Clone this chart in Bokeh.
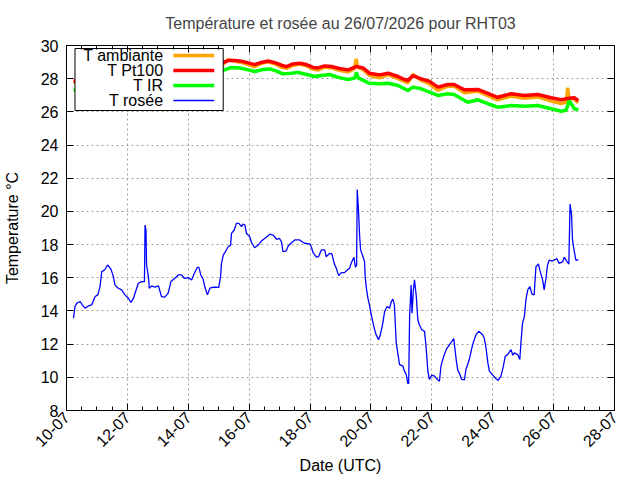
import math
from bokeh.plotting import figure
from bokeh.models import Range1d, FixedTicker, LinearAxis, ColumnDataSource
from bokeh.core.properties import value
from bokeh.embed import file_html
from bokeh.resources import INLINE

titre = "Température et rosée au 26/07/2026 pour RHT03"
noms = ["T ambiante", "T Pt100", "T IR", "T rosée"]
couleurs = ["#ffa500", "#ff0000", "#00ff00", "#0000ff"]
epaisseurs = [3.5, 3.5, 3.5, 1.3]

# jours depuis le 10-07 00:00 UTC
tick_jours = [0, 2, 4, 6, 8, 10, 12, 14, 16, 18]
tick_dates = ["10-07", "12-07", "14-07", "16-07", "18-07",
              "20-07", "22-07", "24-07", "26-07", "28-07"]

# T ambiante
amb_t = [0.23, 0.5, 1.0, 1.5, 2.0, 2.5, 3.0, 3.5, 4.0, 4.5, 5.0, 5.16, 5.31,
         5.53, 5.75, 5.97, 6.18, 6.40, 6.62, 6.84, 7.06, 7.22, 7.44, 7.66,
         7.88, 8.10, 8.26, 8.48, 8.70, 8.97, 9.25, 9.45, 9.52, 9.56, 9.74,
         9.95, 10.28, 10.56, 10.89, 11.21, 11.38, 11.65, 11.91, 12.20, 12.52,
         12.73, 13.07, 13.51, 13.84, 14.16, 14.60, 15.04, 15.48, 15.92, 16.25,
         16.42, 16.46, 16.50, 16.68, 16.81]
amb_v = [27.75, 27.9, 28.1, 28.3, 28.45, 28.55, 28.65, 28.75, 28.8, 28.9, 28.95,
         28.9, 29.15, 29.05, 28.98, 28.85, 28.72, 28.92, 29.02, 28.9, 28.7,
         28.62, 28.8, 28.88, 28.78, 28.58, 28.52, 28.7, 28.65, 28.5, 28.4,
         28.6, 29.19, 28.7, 28.55, 28.2, 28.05, 28.25, 28.0, 27.75, 28.25,
         27.9, 27.7, 27.3, 27.55, 27.55, 27.15, 27.25, 26.98, 26.72, 26.95,
         26.82, 26.9, 26.65, 26.5, 26.6, 27.45, 26.85, 26.75, 26.55]

# T Pt100
pt_t = [0.23, 0.5, 1.0, 1.5, 2.0, 2.5, 3.0, 3.5, 4.0, 4.5, 5.0, 5.16, 5.31,
        5.53, 5.75, 5.97, 6.18, 6.40, 6.62, 6.84, 7.06, 7.22, 7.44, 7.66,
        7.88, 8.10, 8.26, 8.48, 8.70, 8.97, 9.25, 9.52, 9.74, 9.95, 10.28,
        10.56, 10.89, 11.03, 11.21, 11.38, 11.65, 11.91, 12.20, 12.52, 12.73,
        13.07, 13.51, 13.84, 14.16, 14.60, 15.04, 15.48, 15.92, 16.25, 16.46,
        16.68, 16.81]
pt_v = [27.85, 27.95, 28.15, 28.35, 28.5, 28.6, 28.7, 28.8, 28.85, 28.95, 29.0,
        28.98, 29.09, 29.09, 29.05, 28.95, 28.85, 28.98, 29.07, 28.97, 28.81,
        28.73, 28.89, 28.93, 28.85, 28.68, 28.65, 28.77, 28.73, 28.61, 28.53,
        28.73, 28.65, 28.33, 28.23, 28.33, 28.13, 28.0, 27.89, 28.19, 27.99,
        27.85, 27.49, 27.65, 27.65, 27.33, 27.35, 27.12, 26.88, 27.09, 26.99,
        27.05, 26.85, 26.73, 26.8, 26.85, 26.68]

# T IR
ir_t = [0.23, 0.5, 1.0, 1.5, 2.0, 2.5, 3.0, 3.5, 4.0, 4.5, 5.0, 5.2, 5.42,
        5.69, 5.97, 6.18, 6.46, 6.68, 6.90, 7.11, 7.39, 7.61, 7.88, 8.15,
        8.37, 8.64, 8.92, 9.25, 9.48, 9.52, 9.58, 9.95, 10.28, 10.56, 10.89,
        11.21, 11.38, 11.65, 12.20, 12.52, 12.73, 13.18, 13.51, 13.84, 14.16,
        14.60, 15.04, 15.48, 15.92, 16.25, 16.41, 16.51, 16.68, 16.81]
ir_v = [27.29, 27.4, 27.6, 27.85, 28.0, 28.1, 28.2, 28.3, 28.35, 28.45, 28.5,
        28.53, 28.68, 28.64, 28.53, 28.43, 28.55, 28.59, 28.45, 28.29, 28.33,
        28.38, 28.25, 28.13, 28.19, 28.25, 28.08, 27.95, 28.05, 28.38, 28.05,
        27.72, 27.69, 27.72, 27.59, 27.29, 27.49, 27.39, 26.99, 27.09, 27.05,
        26.58, 26.73, 26.49, 26.28, 26.38, 26.34, 26.38, 26.19, 26.04, 26.1,
        26.68, 26.19, 26.13]

# T rosée
ros_t = [0.23, 0.28, 0.34, 0.45, 0.52, 0.61, 0.72, 0.83, 0.94, 1.03, 1.10,
         1.16, 1.25, 1.35, 1.46, 1.54, 1.59, 1.70, 1.81, 1.92, 2.03, 2.12,
         2.20, 2.27, 2.36, 2.47, 2.56, 2.58, 2.61, 2.63, 2.69, 2.72, 2.80,
         2.90, 3.02, 3.12, 3.23, 3.34, 3.43, 3.56, 3.67, 3.78, 3.87, 4.00,
         4.11, 4.20, 4.30, 4.35, 4.41, 4.49, 4.54, 4.63, 4.71, 4.82, 4.93,
         5.00, 5.06, 5.09, 5.15, 5.22, 5.31, 5.39, 5.42, 5.51, 5.58, 5.66,
         5.75, 5.80, 5.86, 5.91, 6.02, 6.08, 6.18, 6.30, 6.40, 6.51, 6.68,
         6.79, 6.90, 7.00, 7.06, 7.11, 7.22, 7.28, 7.39, 7.50, 7.66, 7.74,
         7.82, 7.99, 8.04, 8.10, 8.21, 8.28, 8.37, 8.48, 8.53, 8.64, 8.72,
         8.79, 8.86, 8.94, 9.03, 9.13, 9.22, 9.30, 9.35, 9.44, 9.49, 9.53,
         9.55, 9.59, 9.63, 9.66, 9.74, 9.79, 9.81, 9.85, 9.90, 9.95, 10.01,
         10.07, 10.12, 10.17, 10.25, 10.31, 10.39, 10.45, 10.53, 10.61, 10.67,
         10.72, 10.77, 10.83, 10.89, 10.94, 11.05, 11.10, 11.16, 11.21, 11.24,
         11.27, 11.32, 11.35, 11.39, 11.43, 11.49, 11.54, 11.59, 11.67, 11.76,
         11.81, 11.87, 11.92, 12.00, 12.09, 12.16, 12.25, 12.30, 12.39, 12.47,
         12.58, 12.66, 12.72, 12.80, 12.85, 12.90, 12.98, 13.07, 13.12, 13.23,
         13.34, 13.45, 13.54, 13.67, 13.72, 13.78, 13.84, 13.89, 14.00, 14.11,
         14.18, 14.27, 14.35, 14.41, 14.49, 14.60, 14.66, 14.71, 14.82, 14.89,
         14.93, 14.98, 15.04, 15.09, 15.15, 15.22, 15.29, 15.36, 15.42, 15.50,
         15.56, 15.64, 15.69, 15.75, 15.80, 15.86, 15.93, 16.02, 16.11, 16.18,
         16.30, 16.35, 16.44, 16.50, 16.54, 16.59, 16.62, 16.67, 16.73, 16.81]
ros_v = [13.57, 14.27, 14.47, 14.57, 14.37, 14.17, 14.3, 14.37, 14.87, 14.97,
         15.47, 16.37, 16.47, 16.77, 16.52, 16.07, 15.57, 15.37, 15.27, 14.97,
         14.77, 14.51, 14.77, 15.17, 15.67, 15.77, 15.77, 19.18, 18.88, 16.77,
         16.07, 15.37, 15.51, 15.43, 15.51, 14.87, 14.83, 15.07, 15.77, 15.97,
         16.17, 16.17, 15.97, 16.01, 15.87, 16.27, 16.63, 16.63, 16.17, 15.91,
         15.47, 14.97, 15.37, 15.43, 15.43, 15.4, 16.07, 16.87, 17.37, 17.57,
         17.87, 17.97, 18.68, 18.88, 19.28, 19.28, 19.08, 19.24, 19.18, 18.68,
         18.47, 18.11, 17.81, 17.97, 18.21, 18.37, 18.63, 18.57, 18.32, 18.37,
         18.17, 17.57, 17.62, 17.92, 18.11, 18.28, 18.28, 18.17, 18.08, 18.04,
         17.87, 17.51, 17.24, 17.27, 17.68, 17.68, 17.27, 17.47, 17.44, 16.87,
         16.58, 16.13, 16.31, 16.31, 16.47, 16.58, 16.87, 17.24, 16.63, 16.77,
         21.32, 20.08, 18.47, 17.68, 17.27, 16.97, 16.07, 15.37, 14.77, 14.37,
         13.77, 13.27, 12.87, 12.57, 12.27, 12.57, 13.27, 13.97, 14.27, 14.17,
         14.57, 14.71, 14.37, 12.07, 11.37, 10.77, 10.67, 10.37, 10.17, 9.63,
         9.63, 13.67, 15.57, 13.87, 15.17, 15.87, 14.87, 13.47, 13.17, 12.87,
         12.77, 11.87, 10.37, 9.87, 10.13, 10.07, 9.91, 9.77, 10.67, 11.27,
         11.67, 11.97, 12.17, 12.33, 11.07, 10.43, 10.27, 9.87, 9.85, 10.47,
         11.07, 11.97, 12.57, 12.77, 12.57, 12.37, 11.77, 10.87, 10.37, 10.13,
         9.91, 9.81, 10.07, 10.67, 11.27, 11.37, 11.67, 11.33, 11.47, 11.37,
         11.07, 12.17, 13.27, 13.67, 14.67, 15.27, 15.47, 15.01, 14.97, 16.67,
         16.83, 16.37, 15.87, 15.27, 15.97, 16.77, 17.07, 17.01, 17.07, 17.15,
         16.87, 16.97, 17.24, 16.97, 16.83, 20.44, 19.78, 18.28, 17.68, 17.07,
         17.07]

POLICE = "Liberation Sans"
TAILLE = "16px"

X0, X1 = 0, 18
Y0, Y1 = 8, 30
FW, FH = 549, 365

p = figure(width=640, height=480, x_range=Range1d(X0, X1), y_range=Range1d(Y0, Y1),
           output_backend="svg", toolbar_location=None,
           min_border_left=65, min_border_right=26,
           min_border_top=45, min_border_bottom=70,
           x_axis_label="Date (UTC)", y_axis_label="Temperature °C")

p.title.text = titre
p.title.align = "center"
p.title.standoff = 10
p.title.text_font = POLICE
p.title.text_font_size = TAILLE
p.title.text_font_style = "normal"

p.outline_line_color = "black"
p.background_fill_color = "white"
p.border_fill_color = "white"

xticks = FixedTicker(ticks=tick_jours, minor_ticks=[j / 2 for j in range(0, 37)])
yticks = FixedTicker(ticks=list(range(8, 31, 2)))

p.xaxis.ticker = xticks
p.xaxis.major_label_overrides = {j: d for j, d in zip(tick_jours, tick_dates)}
p.xaxis.major_label_orientation = math.pi / 4
p.yaxis.ticker = yticks

for ax in [p.xaxis[0], p.yaxis[0]]:
    ax.axis_line_color = "black"
    ax.major_tick_in = 7
    ax.major_tick_out = 0
    ax.minor_tick_in = 4
    ax.minor_tick_out = 0
    ax.major_label_text_font = POLICE
    ax.major_label_text_font_size = TAILLE
    ax.major_label_text_color = "black"
    ax.axis_label_text_font = POLICE
    ax.axis_label_text_font_size = TAILLE
    ax.axis_label_text_font_style = "normal"
    ax.axis_label_text_color = "black"
p.yaxis.minor_tick_line_color = None
p.xaxis.major_label_standoff = 4
p.xaxis.axis_label_standoff = 2
p.yaxis.major_label_standoff = 8
p.yaxis.axis_label_standoff = 17

# axes miroirs en haut et a droite, sans etiquettes
haut = LinearAxis(ticker=xticks, major_tick_in=7, major_tick_out=0,
                  minor_tick_in=4, minor_tick_out=0,
                  major_label_text_color=None, major_label_text_font_size="1px",
                  major_label_standoff=0, axis_line_color="black")
droite = LinearAxis(ticker=yticks, major_tick_in=7, major_tick_out=0,
                    minor_tick_line_color=None,
                    major_label_text_color=None, major_label_text_font_size="1px",
                    major_label_standoff=0, axis_line_color="black")
p.add_layout(haut, "above")
p.add_layout(droite, "right")

# axe invisible qui ne sert qu'a remonter le titre
espace = LinearAxis(ticker=xticks, major_tick_in=0, major_tick_out=9,
                    minor_tick_in=0, minor_tick_out=0,
                    major_tick_line_color=None, minor_tick_line_color=None,
                    axis_line_color=None, major_label_text_color=None,
                    major_label_text_font_size="1px", major_label_standoff=0)
p.add_layout(espace, "above")

p.xgrid.ticker = xticks
p.ygrid.ticker = yticks
for g in [p.xgrid[0], p.ygrid[0]]:
    g.grid_line_color = "#a0a0a0"
    g.grid_line_dash = "2 3"
    g.grid_line_width = 1

series = [(amb_t, amb_v), (pt_t, pt_v), (ir_t, ir_v), (ros_t, ros_v)]
for (t, v), c, w in zip(series, couleurs, epaisseurs):
    p.line(t, v, line_color=c, line_width=w)


# pixels (depuis le coin haut-gauche du cadre) -> coordonnees des axes
def gx(px):
    return X0 + px * (X1 - X0) / FW


def gy(py):
    return Y1 - py * (Y1 - Y0) / FH


# legende facon gnuplot : texte a gauche, trait a droite
p.quad(left=[gx(8.5)], right=[gx(157)], top=[gy(3)], bottom=[gy(65)],
       fill_color="white", line_color="black", line_width=1)
rangs = [10, 25, 40, 55]
leg = ColumnDataSource(data=dict(
    x=[gx(97)] * 4, y=[gy(r) for r in rangs], nom=noms,
    x0=[gx(107)] * 4, x1=[gx(148)] * 4, c=couleurs, w=epaisseurs))
p.text(x="x", y="y", text="nom", source=leg, text_align="right",
       text_baseline="middle", text_font=value(POLICE),
       text_font_size=value(TAILLE), text_color="black")
p.segment(x0="x0", y0="y", x1="x1", y1="y", source=leg, line_color="c", line_width="w")

open("out.html", "w").write(file_html(p, INLINE))
